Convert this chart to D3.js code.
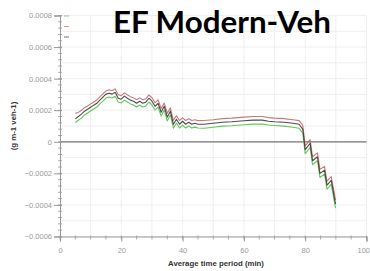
<!DOCTYPE html>
<html><head><meta charset="utf-8">
<script src="https://cdn.jsdelivr.net/npm/d3@7"></script>
<style>html,body{margin:0;padding:0;background:#fff;overflow:hidden}</style>
</head><body>
<svg id="c" width="370" height="271"></svg>
<script>
const titleText = "EF Modern-Veh";
const xTitle = "Average time period (min)";
const yTitle = "(g m-1 veh-1)";
const xTicks = [0, 20, 40, 60, 80, 100];
const yTicks = [-0.0006, -0.0004, -0.0002, 0, 0.0002, 0.0004, 0.0006, 0.0008];
const times = [5,6,7,8,9,10,11,12,13,14,15,16,17,18,19,20,21,22,23,24,25,26,27,28,29,30,31,32,33,34,35,36,37,38,39,40,41,42,43,44,45,47,50,53,56,60,63,66,68,70,73,76,78,79.2,80.0,81.6,82.4,84.0,84.8,86.3,87.1,88.5,89.9];
// values in units of 1e-4 g m-1 veh-1
const upperE4 = [1.80,1.86,2.00,2.16,2.27,2.40,2.52,2.65,2.85,3.03,3.22,3.30,3.23,3.35,2.98,2.92,3.10,2.97,2.86,2.78,2.66,2.78,2.66,2.72,2.97,2.79,2.47,2.66,2.10,2.46,1.80,2.15,1.36,1.65,1.35,1.52,1.35,1.46,1.35,1.40,1.34,1.35,1.40,1.47,1.50,1.56,1.60,1.60,1.53,1.50,1.47,1.40,1.34,1.05,-0.26,0.14,-0.95,-0.70,-1.75,-1.56,-2.50,-2.21,-3.70];
const meanE4  = [1.45,1.60,1.75,1.94,2.06,2.19,2.32,2.44,2.64,2.83,3.02,3.08,3.02,3.14,2.76,2.70,2.89,2.76,2.64,2.57,2.44,2.57,2.44,2.51,2.76,2.57,2.25,2.44,1.87,2.25,1.56,1.94,1.11,1.43,1.11,1.30,1.11,1.24,1.11,1.17,1.11,1.11,1.17,1.24,1.27,1.33,1.37,1.37,1.30,1.27,1.24,1.17,1.11,0.80,-0.50,-0.10,-1.20,-0.95,-2.00,-1.80,-2.75,-2.45,-3.95];
const lowerE4 = [1.22,1.36,1.50,1.70,1.82,1.95,2.08,2.20,2.40,2.58,2.77,2.84,2.77,2.89,2.52,2.46,2.64,2.52,2.40,2.33,2.20,2.33,2.20,2.27,2.52,2.33,2.01,2.20,1.63,2.01,1.32,1.70,0.86,1.19,0.87,1.06,0.87,1.00,0.87,0.93,0.87,0.86,0.92,0.99,1.02,1.08,1.12,1.12,1.06,1.03,0.99,0.92,0.86,0.55,-0.76,-0.35,-1.45,-1.20,-2.26,-2.05,-3.00,-2.70,-4.20];
const seriesNames = ["lower", "upper", "mean"];
const seriesColors = ["#55c04a", "#c46a6a", "#3a3a3a"];

const series = [
  {name: seriesNames[0], vals: lowerE4, color: seriesColors[0]},
  {name: seriesNames[1], vals: upperE4, color: seriesColors[1]},
  {name: seriesNames[2], vals: meanE4, color: seriesColors[2]}
];

const svg = d3.select("#c");
const x = d3.scaleLinear().domain([0, 100]).range([60, 366.5]);
const y = d3.scaleLinear().domain([-0.0006, 0.0008]).range([236.5, 15.5]);

// grid
const g = svg.append("g");
g.selectAll(".vg").data(d3.range(10, 101, 10)).join("line")
  .attr("x1", d => x(d)).attr("x2", d => x(d)).attr("y1", y(0.0008)).attr("y2", y(-0.0006))
  .attr("stroke", "#ebebeb").attr("stroke-width", 0.8);
g.selectAll(".hg").data(d3.range(-6, 9, 1).map(v => v * 1e-4)).join("line")
  .attr("x1", x(0)).attr("x2", x(100)).attr("y1", d => y(d)).attr("y2", d => y(d))
  .attr("stroke", "#ebebeb").attr("stroke-width", 0.8);

// zero line
svg.append("line").attr("x1", x(0)).attr("x2", x(100)).attr("y1", y(0)).attr("y2", y(0))
  .attr("stroke", "#777").attr("stroke-width", 1.3);

// axes
const yAxis = d3.axisLeft(y).tickValues(yTicks).tickSize(6)
  .tickFormat(d => d === 0 ? "0" : d3.format(".4f")(d).replace("-", "\u2212"));
const ya = svg.append("g").attr("transform", `translate(${x(0)},0)`).call(yAxis);
ya.select(".domain").attr("stroke", "#999");
ya.selectAll(".tick line").attr("stroke", "#999").attr("x2", -6).attr("x1", 2);
ya.selectAll("text").attr("fill", "#999").attr("font-size", 7.5).attr("font-family", "Liberation Sans, Arial").attr("x", -8);
// minor y
svg.append("g").selectAll("line").data(d3.range(-15, 21, 1).map(v => v * 4e-5)).join("line")
  .attr("x1", x(0) - 2).attr("x2", x(0) + 2).attr("y1", d => y(d)).attr("y2", d => y(d))
  .attr("stroke", "#999").attr("stroke-width", 0.8);

const xAxis = d3.axisBottom(x).tickValues(xTicks).tickSize(5).tickFormat(d3.format("d"));
const xa = svg.append("g").attr("transform", `translate(0,${y(-0.0006)})`).call(xAxis);
xa.select(".domain").attr("stroke", "#999").attr("stroke-width", 1.2);
xa.selectAll(".tick line").attr("stroke", "#999");
xa.selectAll("text").attr("fill", "#999").attr("font-size", 7.5).attr("font-family", "Liberation Sans, Arial").attr("dy", "1.1em");
xa.selectAll(".tick").filter(d => d === 100).select("text").attr("text-anchor", "end").attr("x", 3);
svg.append("g").selectAll("line").data(d3.range(0, 101, 5)).join("line")
  .attr("x1", d => x(d)).attr("x2", d => x(d)).attr("y1", y(-0.0006) - 1).attr("y2", y(-0.0006) + 3)
  .attr("stroke", "#999").attr("stroke-width", 0.8);

// lines
const line = d3.line().x((d, i) => x(times[i])).y(d => y(d * 1e-4));
svg.append("g").selectAll("path").data(series).join("path")
  .attr("d", d => line(d.vals)).attr("fill", "none").attr("stroke", d => d.color)
  .attr("stroke-width", 1.1).attr("stroke-linejoin", "round").attr("opacity", 0.9);

// legend marks
svg.append("g").selectAll("line").data(series).join("line")
  .attr("x1", 64).attr("x2", 69).attr("y1", (d, i) => 16 + i * 10.5).attr("y2", (d, i) => 16 + i * 10.5)
  .attr("stroke", d => d.color).attr("stroke-width", 1).attr("opacity", 0.7);

// titles
const t = svg.append("text").attr("x", 222).attr("y", 33).attr("text-anchor", "middle")
  .attr("font-family", "Lato, Open Sans, sans-serif").attr("font-weight", "bold").attr("font-size", 30)
  .attr("fill", "#000").text(titleText);
const w = t.node().getComputedTextLength();
t.attr("font-size", 30 * 218 / w);

svg.append("text").attr("x", 216).attr("y", 266).attr("text-anchor", "middle")
  .attr("font-family", "Liberation Sans, Arial").attr("font-weight", "bold").attr("font-size", 7.8)
  .attr("fill", "#333").text(xTitle);
svg.append("text").attr("transform", "translate(16,126) rotate(-90)").attr("text-anchor", "middle")
  .attr("font-family", "Liberation Sans, Arial").attr("font-weight", "bold").attr("font-size", 7.8)
  .attr("fill", "#333").text(yTitle);
</script>
</body></html>
